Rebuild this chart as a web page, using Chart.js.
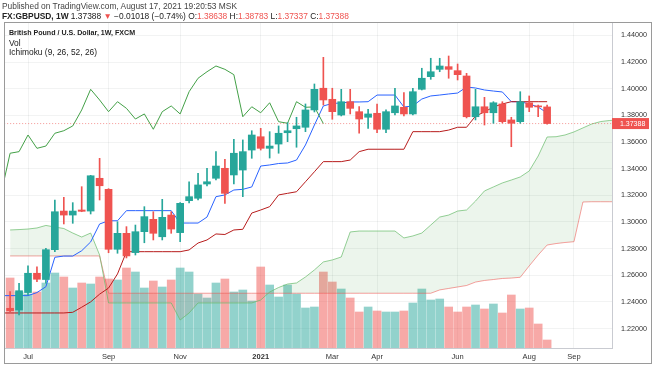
<!DOCTYPE html>
<html>
<head>
<meta charset="utf-8">
<script src="https://cdn.jsdelivr.net/npm/chart.js@4.4.0/dist/chart.umd.min.js"></script>
<style>
  html, body { margin: 0; padding: 0; background: #fff; }
  body { width: 654px; height: 366px; position: relative; overflow: hidden; font-family: "Liberation Sans", Arial, sans-serif; }
  #frame { position: absolute; left: 4px; top: 22px; width: 648px; height: 342px; border: 1px solid #9a9a9a; box-sizing: border-box; }
  #c { position: absolute; left: 0; top: 0; }
  .t { position: absolute; white-space: nowrap; color: #222; }
  .r { color: #ef5350; }
</style>
</head>
<body>
<div id="frame"></div>
<canvas id="c" width="654" height="366"></canvas>
<div class="t" style="left:2px;top:1px;font-size:8.4px;color:#444;">Published on TradingView.com, August 17, 2021 19:20:53 MSK</div>
<div class="t" style="left:2px;top:11px;font-size:8.4px;"><b>FX:GBPUSD, 1W</b> 1.37388 <span class="r">&#9660;</span> &minus;0.01018 (&minus;0.74%) O:<span class="r">1.38638</span> H:<span class="r">1.38783</span> L:<span class="r">1.37337</span> C:<span class="r">1.37388</span></div>
<div class="t" style="left:9px;top:29px;font-size:7.1px;"><b>British Pound / U.S. Dollar, 1W, FXCM</b></div>
<div class="t" style="left:9px;top:38px;font-size:8.4px;">Vol</div>
<div class="t" style="left:9px;top:47px;font-size:8.4px;">Ichimoku (9, 26, 52, 26)</div>
<script>
// weekly bars, index 0 = week of 22 Jun 2020, index 60 = week of 16 Aug 2021
const open = [1.2352,1.2339,1.2470,1.2615,1.2568,1.2792,1.3082,1.3052,1.3090,1.3082,
  1.3328,1.3245,1.2795,1.2915,1.2770,1.2927,1.3020,1.2889,1.3052,1.2920,
  1.3160,1.3178,1.3285,1.3328,1.3403,1.3353,1.3390,1.3540,1.3640,1.3553,
  1.3585,1.3670,1.3700,1.3711,1.3841,1.4004,1.3921,1.3803,1.3903,1.3828,
  1.3786,1.3816,1.3696,1.3820,1.3861,1.3811,1.3996,1.4091,1.4146,1.4166,
  1.4136,1.4096,1.3790,1.3865,1.3820,1.3886,1.3766,1.3753,1.3895,1.3866,
  1.38638];
const high = [1.2477,1.2540,1.2670,1.2664,1.2803,1.3165,1.3185,1.3145,1.3265,1.3350,
  1.3478,1.3250,1.3002,1.2965,1.2977,1.3115,1.3077,1.3170,1.3077,1.3145,
  1.3302,1.3365,1.3403,1.3528,1.3471,1.3621,1.3616,1.3685,1.3703,1.3678,
  1.3721,1.3745,1.3786,1.3886,1.4036,1.4236,1.4004,1.3996,1.3996,1.3866,
  1.3846,1.3886,1.3841,1.4004,1.3971,1.4004,1.4154,1.4229,1.4229,1.4246,
  1.4186,1.4116,1.3996,1.3936,1.3903,1.3903,1.3786,1.3978,1.3946,1.3878,
  1.38783];
const low = [1.2326,1.2302,1.2452,1.2552,1.2540,1.2777,1.2985,1.2990,1.3077,1.3060,
  1.3165,1.2769,1.2765,1.2730,1.2752,1.2844,1.2865,1.2865,1.2915,1.2852,
  1.3143,1.3165,1.3270,1.3315,1.3140,1.3285,1.3190,1.3478,1.3540,1.3480,
  1.3516,1.3603,1.3561,1.3678,1.3826,1.3878,1.3771,1.3796,1.3811,1.3666,
  1.3703,1.3670,1.3670,1.3803,1.3796,1.3803,1.3991,1.4071,1.4128,1.4079,
  1.4066,1.3781,1.3766,1.3728,1.3741,1.3743,1.3565,1.3741,1.3828,1.3790,
  1.37337];
const close = [1.2334,1.2484,1.2615,1.2570,1.2792,1.3077,1.3052,1.3082,1.3080,1.3347,
  1.3272,1.2795,1.2915,1.2745,1.2927,1.3040,1.2915,1.3035,1.2947,1.3140,
  1.3190,1.3278,1.3302,1.3420,1.3215,1.3516,1.3528,1.3653,1.3553,1.3570,
  1.3666,1.3685,1.3721,1.3841,1.3996,1.3916,1.3828,1.3903,1.3853,1.3773,
  1.3811,1.3696,1.3828,1.3871,1.3811,1.3978,1.4079,1.4128,1.4171,1.4146,
  1.4106,1.3790,1.3865,1.3820,1.3895,1.3753,1.3741,1.3903,1.3861,1.3864,
  1.37388];
const volume = [70,56,54,56,65,75,71,60,65,64,
  71,69,68,80,76,60,67,61,68,80,
  76,54,50,65,69,56,58,47,81,63,
  51,63,54,40,41,76,66,59,50,36,
  41,37,36,36,37,45,59,48,49,41,
  36,41,43,39,44,35,53,39,40,24,
  8];

// ichimoku lines, first value sits one bar before index 0
const tenkan = [1.2447,1.2447,1.2447,1.2447,1.2470,1.2514,1.2735,1.2744,1.2744,1.2784,
  1.2850,1.2985,1.3009,1.3009,1.3085,1.3085,1.3085,1.3085,1.3085,1.3085,
  1.2992,1.2992,1.2992,1.3037,1.3190,1.3203,1.3240,1.3245,1.3263,1.3420,
  1.3428,1.3439,1.3443,1.3465,1.3578,1.3728,1.3871,1.3890,1.3893,1.3901,
  1.3901,1.3903,1.3953,1.3953,1.3953,1.3863,1.3871,1.3923,1.3946,1.3953,
  1.3961,1.3968,1.4013,1.4006,1.3991,1.3983,1.3976,1.3903,1.3903,1.3886,
  1.3863,1.3818];
const kijun = [1.2317,1.2317,1.2317,1.2317,1.2317,1.2317,1.2317,1.2317,1.2322,1.2360,
  1.2400,1.2458,1.2504,1.2610,1.2777,1.2777,1.2777,1.2777,1.2777,1.2777,
  1.2777,1.2790,1.2842,1.2865,1.2910,1.2906,1.2940,1.2945,1.3067,1.3090,
  1.3115,1.3203,1.3215,1.3227,1.3302,1.3377,1.3453,1.3453,1.3453,1.3465,
  1.3528,1.3546,1.3546,1.3546,1.3546,1.3546,1.3678,1.3678,1.3678,1.3678,
  1.3690,1.3711,1.3711,1.3795,1.3826,1.3863,1.3886,1.3903,1.3903,1.3903,
  1.3903,1.3903];
const lagging = [1.3215,1.3516,1.3528,1.3653,1.3553,1.3570,1.3666,1.3685,1.3721,1.3841,
  1.3996,1.3916,1.3828,1.3903,1.3853,1.3773,1.3811,1.3696,1.3828,1.3871,
  1.3811,1.3978,1.4079,1.4128,1.4171,1.4146,1.4106,1.3790,1.3865,1.3820,
  1.3895,1.3753,1.3741,1.3903,1.3861,1.3864,1.37388];
// leading spans, first value at index 0, run 8 bars past the last candle
const leadA = [1.2940,1.2943,1.2947,1.2955,1.2974,1.2962,1.2951,1.2917,1.2887,1.2917,
  1.2752,1.2392,1.2392,1.2392,1.2392,1.2392,1.2392,1.2392,1.2392,1.2264,
  1.2317,1.2392,1.2392,1.2392,1.2392,1.2392,1.2392,1.2392,1.2414,1.2474,
  1.2508,1.2534,1.2542,1.2587,1.2640,1.2700,1.2715,1.2737,1.2925,1.2932,
  1.2932,1.2932,1.2932,1.2932,1.2880,1.2895,1.2917,1.2977,1.3037,1.3052,
  1.3082,1.3090,1.3157,1.3233,1.3263,1.3293,1.3315,1.3338,1.3383,1.3495,
  1.3638,1.3640,1.3653,1.3676,1.3706,1.3736,1.3754,1.3762,1.3766];
const leadB = [1.2745,1.2745,1.2745,1.2745,1.2745,1.2745,1.2745,1.2745,1.2745,1.2745,
  1.2745,1.2465,1.2465,1.2465,1.2465,1.2465,1.2465,1.2465,1.2465,1.2465,
  1.2465,1.2465,1.2465,1.2465,1.2465,1.2465,1.2465,1.2465,1.2465,1.2465,
  1.2465,1.2465,1.2465,1.2465,1.2465,1.2465,1.2465,1.2465,1.2465,1.2465,
  1.2465,1.2465,1.2465,1.2465,1.2465,1.2465,1.2465,1.2465,1.2490,1.2501,
  1.2512,1.2523,1.2549,1.2561,1.2568,1.2576,1.2579,1.2585,1.2670,1.2752,
  1.2827,1.2838,1.2846,1.2852,1.3150,1.3152,1.3152,1.3152,1.3152];

const monthTicks = [2, 11, 19, 28, 36, 41, 50, 58, 63];
const monthNames = ['Jul', 'Sep', 'Nov', '2021', 'Mar', 'Apr', 'Jun', 'Aug', 'Sep'];
const priceTicks = [1.22, 1.24, 1.26, 1.28, 1.30, 1.32, 1.34, 1.36, 1.38, 1.40, 1.42, 1.44];

const lastPrice = close[close.length - 1];
const UP = '#26a69a', DOWN = '#ef5350';
const gridColor = 'rgba(42,46,57,0.06)';
const fontFam = '"Liberation Sans", Arial, sans-serif';

const isUp = (i) => close[i] >= open[i];
const series = (arr, first) => arr.map((v, k) => ({ x: k + first, y: v }));

const bodies = open.map((o, i) => ({ x: i, y: [o, close[i]] }));
const wicks = low.map((l, i) => ({ x: i, y: [l, high[i]] }));
const vols = volume.map((v, i) => ({ x: i, y: v }));

const lastLabel = {
  id: 'lastLabel',
  afterDraw(chart) {
    const ctx = chart.ctx;
    const ys = chart.scales.y;
    const y = ys.getPixelForValue(lastPrice);
    ctx.save();
    ctx.fillStyle = DOWN;
    ctx.fillRect(ys.left, y - 5.5, 37, 11);
    ctx.fillStyle = '#fff';
    ctx.font = '7px ' + fontFam;
    ctx.textBaseline = 'middle';
    ctx.fillText(lastPrice.toFixed(5), ys.left + 8, y + 0.5);
    ctx.restore();
  }
};

new Chart(document.getElementById('c'), {
  type: 'bar',
  data: {
    datasets: [
      {
        type: 'line', label: 'Lead 1', data: series(leadA, 0),
        borderColor: 'rgba(102,187,106,0.7)', borderWidth: 1, pointRadius: 0,
        fill: { target: '+1', above: 'rgba(67,160,71,0.1)', below: 'rgba(244,67,54,0.1)' },
        order: 6
      },
      {
        type: 'line', label: 'Lead 2', data: series(leadB, 0),
        borderColor: 'rgba(239,83,80,0.55)', borderWidth: 1, pointRadius: 0, fill: false,
        order: 6
      },
      {
        label: 'Vol', data: vols, yAxisID: 'yv', grouped: false, barThickness: 8,
        backgroundColor: (c) => isUp(c.dataIndex) ? 'rgba(38,166,154,0.5)' : 'rgba(239,83,80,0.5)',
        order: 7
      },
      {
        type: 'line', label: 'Lagging Span', data: series(lagging, -1),
        borderColor: '#43a047', borderWidth: 1, pointRadius: 0, fill: false, order: 3
      },
      {
        type: 'line', label: 'Base Line', data: series(kijun, -1),
        borderColor: '#b71c1c', borderWidth: 1, pointRadius: 0, fill: false, order: 3
      },
      {
        type: 'line', label: 'Conversion Line', data: series(tenkan, -1),
        borderColor: '#2962ff', borderWidth: 1, pointRadius: 0, fill: false, order: 3
      },
      {
        type: 'line', label: 'last', data: [{ x: -1, y: lastPrice }, { x: 68, y: lastPrice }],
        borderColor: 'rgba(239,83,80,0.6)', borderWidth: 1, borderDash: [1, 2], pointRadius: 0, fill: false, order: 2
      },
      {
        label: 'wick', data: wicks, grouped: false, barThickness: 1,
        backgroundColor: (c) => isUp(c.dataIndex) ? UP : DOWN, order: 1
      },
      {
        label: 'body', data: bodies, grouped: false, barThickness: 7, minBarLength: 1,
        backgroundColor: (c) => isUp(c.dataIndex) ? UP : DOWN, order: 0
      }
    ]
  },
  options: {
    responsive: false,
    animation: false,
    layout: { padding: { left: 5, top: 23, right: 0, bottom: 0 } },
    plugins: { legend: { display: false }, tooltip: { enabled: false } },
    scales: {
      x: {
        type: 'linear', min: -0.57, max: 67.25, offset: false,
        grid: { color: gridColor, drawTicks: false, offset: false },
        border: { display: true, color: '#c9cbd1' },
        afterBuildTicks: (s) => { s.ticks = monthTicks.map((v) => ({ value: v })); },
        afterFit: (s) => { s.height = 18; },
        ticks: {
          autoSkip: false, maxRotation: 0, padding: 4, color: '#333',
          font: (c) => ({ family: fontFam, size: 7.5, weight: c.tick && c.tick.value === 28 ? 'bold' : 'normal' }),
          callback: (v) => monthNames[monthTicks.indexOf(v)]
        }
      },
      y: {
        position: 'right', min: 1.20539, max: 1.44938,
        grid: { color: gridColor, drawTicks: false },
        border: { display: true, color: '#c9cbd1' },
        afterBuildTicks: (s) => { s.ticks = priceTicks.map((v) => ({ value: v })); },
        afterFit: (s) => { s.width = 42; },
        ticks: {
          padding: 9, color: '#333', font: { family: fontFam, size: 7.2 },
          callback: (v) => v.toFixed(5)
        }
      },
      yv: { display: false, min: 0, max: 325 }
    }
  },
  plugins: [lastLabel]
});
</script>
</body>
</html>
